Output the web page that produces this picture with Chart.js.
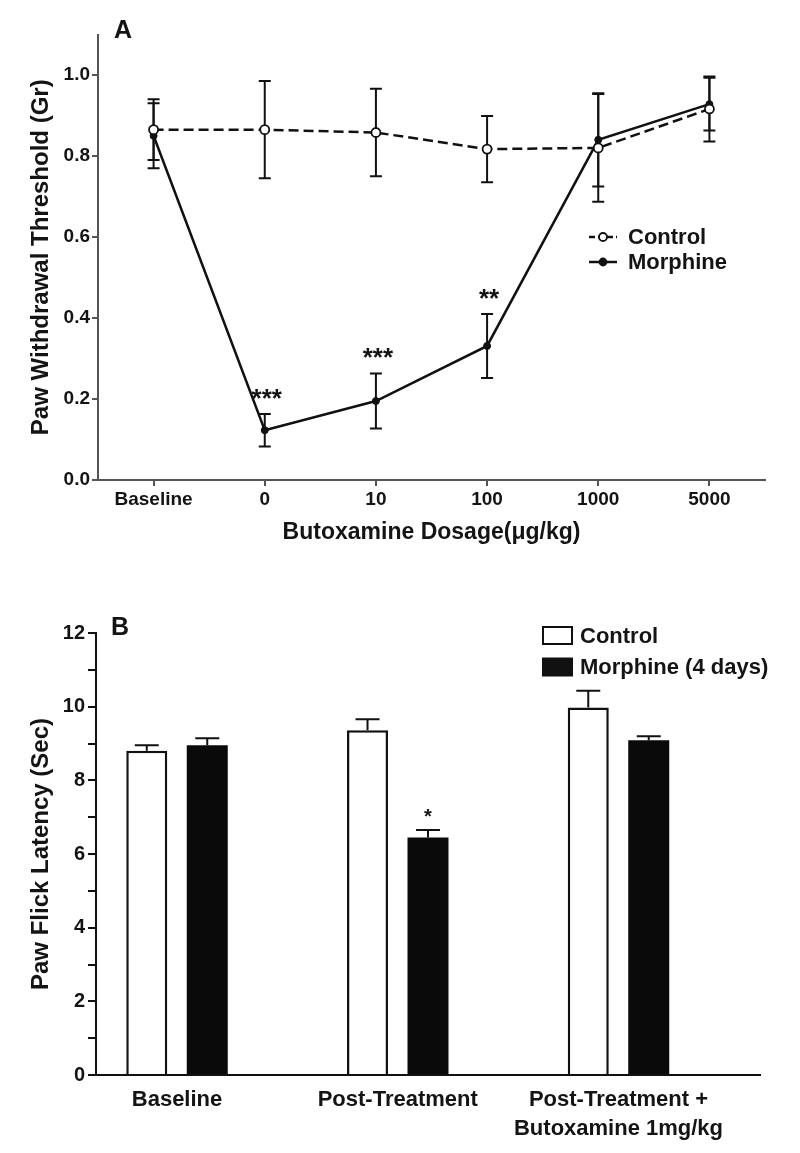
<!DOCTYPE html>
<html>
<head>
<meta charset="utf-8">
<script src="https://cdn.jsdelivr.net/npm/chart.js@4.4.1/dist/chart.umd.min.js"></script>
<style>
  html, body { margin: 0; padding: 0; background: #fff; }
  body { width: 800px; height: 1153px; position: relative; overflow: hidden; }
  .wrap { position: absolute; left: 0; width: 800px; }
</style>
</head>
<body>
<div class="wrap" style="top:0;height:560px"><canvas id="ca" width="800" height="560" style="width:800px;height:560px"></canvas></div>
<div class="wrap" style="top:560px;height:593px"><canvas id="cb" width="800" height="593" style="width:800px;height:593px"></canvas></div>
<script>
// ---------- Panel A data ----------
const categoriesA = ['Baseline', '0', '10', '100', '1000', '5000'];
const controlA = [0.865, 0.865, 0.858, 0.817, 0.82, 0.916];
const controlErrA = [0.075, 0.12, 0.108, 0.082, 0.133, 0.08];
const morphineA = [0.85, 0.123, 0.195, 0.331, 0.84, 0.928];
const morphineErrA = [0.08, 0.04, 0.068, 0.079, 0.115, 0.065];
const starsA = ['', '***', '***', '**', '', ''];
const yTicksA = [0, 0.2, 0.4, 0.6, 0.8, 1.0];

// ---------- Panel B data ----------
const groupsB = ['Baseline', 'Post-Treatment', ['Post-Treatment +', 'Butoxamine 1mg/kg']];
const controlB = [8.8, 9.36, 9.98];
const controlErrB = [0.155, 0.3, 0.45];
const morphineB = [8.95, 6.45, 9.09];
const morphineErrB = [0.19, 0.2, 0.11];
const starsB = ['', '*', ''];
const yTicksB = [0, 1, 2, 3, 4, 5, 6, 7, 8, 9, 10, 11, 12];

const FONT = "'Liberation Sans', Arial, Helvetica, sans-serif";
const TXT = '#141414';
Chart.defaults.font.family = FONT;
Chart.defaults.color = TXT;

// ---------- Panel A ----------
const plotPluginA = {
  id: 'plotPluginA',
  beforeDatasetsDraw(chart) {
    const { ctx, scales: { x, y } } = chart;
    ctx.save();
    ctx.strokeStyle = '#111';
    ctx.lineWidth = 2;
    chart.data.datasets.forEach(ds => {
      ds.err.forEach((e, i) => {
        const v = ds.data[i];
        const px = x.getPixelForValue(i);
        const t = y.getPixelForValue(v + e);
        const b = y.getPixelForValue(v - e);
        ctx.beginPath();
        ctx.moveTo(px, t); ctx.lineTo(px, b);
        ctx.moveTo(px - 6, t); ctx.lineTo(px + 6, t);
        ctx.moveTo(px - 6, b); ctx.lineTo(px + 6, b);
        ctx.stroke();
      });
    });
    ctx.restore();
  },
  afterDatasetsDraw(chart) {
    const { ctx, scales: { x, y } } = chart;
    ctx.save();
    ctx.fillStyle = TXT;
    ctx.font = 'bold 26px ' + FONT;
    ctx.textAlign = 'center';
    ctx.textBaseline = 'alphabetic';
    starsA.forEach((s, i) => {
      if (!s) return;
      const px = x.getPixelForValue(i);
      const t = y.getPixelForValue(morphineA[i] + morphineErrA[i]);
      ctx.fillText(s, px + 2, t - 7);
    });
    // panel letter
    ctx.textAlign = 'left';
    ctx.font = 'bold 25px ' + FONT;
    ctx.fillText('A', 114, 38);
    // legend
    ctx.font = 'bold 22px ' + FONT;
    ctx.textBaseline = 'middle';
    const rows = [{ label: 'Control', y: 237, dash: [6, 3], open: true }, { label: 'Morphine', y: 262, dash: [], open: false }];
    rows.forEach(r => {
      ctx.strokeStyle = '#111';
      ctx.lineWidth = 2.5;
      ctx.setLineDash(r.dash);
      ctx.beginPath(); ctx.moveTo(589, r.y); ctx.lineTo(617, r.y); ctx.stroke();
      ctx.setLineDash([]);
      ctx.beginPath();
      ctx.arc(603, r.y, r.open ? 4 : 3.5, 0, Math.PI * 2);
      ctx.fillStyle = r.open ? '#fff' : '#111';
      ctx.fill();
      ctx.lineWidth = 1.8;
      ctx.stroke();
      ctx.fillStyle = TXT;
      ctx.fillText(r.label, 628, r.y + 1);
    });
    ctx.restore();
  }
};

new Chart(document.getElementById('ca'), {
  type: 'line',
  data: {
    labels: categoriesA,
    datasets: [
      {
        label: 'Control', data: controlA, err: controlErrA,
        borderColor: '#111', borderWidth: 2.5, borderDash: [10, 5],
        pointRadius: 4.5, pointBackgroundColor: '#fff', pointBorderColor: '#111', pointBorderWidth: 1.8,
        tension: 0, fill: false
      },
      {
        label: 'Morphine', data: morphineA, err: morphineErrA,
        borderColor: '#111', borderWidth: 2.5,
        pointRadius: 3.5, pointBackgroundColor: '#111', pointBorderColor: '#111', pointBorderWidth: 1,
        tension: 0, fill: false
      }
    ]
  },
  options: {
    responsive: false,
    animation: false,
    layout: { padding: { top: 34.5, right: 35, left: 0, bottom: 0 } },
    plugins: { legend: { display: false }, tooltip: { enabled: false } },
    scales: {
      x: {
        type: 'category',
        offset: true,
        grid: { display: true, drawOnChartArea: false, tickLength: 6, color: '#555', lineWidth: 2 },
        border: { display: true, color: '#555', width: 2 },
        ticks: { font: { size: 19, weight: 'bold' }, color: TXT, padding: 2, maxRotation: 0, minRotation: 0, autoSkip: false },
        title: { display: true, text: 'Butoxamine Dosage(\u03BCg/kg)', font: { size: 23, weight: 'bold' }, color: TXT, padding: { top: 0, bottom: 14 } },
        afterFit(scale) { scale.height = 80; }
      },
      y: {
        min: 0, max: 1.1,
        afterBuildTicks(scale) { scale.ticks = yTicksA.map(v => ({ value: v })); },
        grid: { display: true, drawOnChartArea: false, tickLength: 6, color: '#555', lineWidth: 2 },
        border: { display: true, color: '#555', width: 2 },
        ticks: { font: { size: 19, weight: 'bold' }, color: TXT, padding: 2, callback: v => Number(v).toFixed(1) },
        title: { display: true, text: 'Paw Withdrawal Threshold (Gr)', font: { size: 24, weight: 'bold' }, color: TXT, padding: { top: 27, bottom: 0 } },
        afterFit(scale) { scale.width = 98; }
      }
    }
  },
  plugins: [plotPluginA]
});

// ---------- Panel B ----------
const plotPluginB = {
  id: 'plotPluginB',
  afterDatasetsDraw(chart) {
    const { ctx, scales: { y } } = chart;
    ctx.save();
    ctx.strokeStyle = '#111';
    ctx.lineWidth = 2;
    chart.data.datasets.forEach((ds, di) => {
      const meta = chart.getDatasetMeta(di);
      ds.err.forEach((e, i) => {
        const el = meta.data[i];
        const v = ds.data[i].y;
        const px = el.x;
        const t = y.getPixelForValue(v + e);
        const b = y.getPixelForValue(v);
        ctx.beginPath();
        ctx.moveTo(px, b); ctx.lineTo(px, t);
        ctx.moveTo(px - 12, t); ctx.lineTo(px + 12, t);
        ctx.stroke();
      });
    });
    // stars
    ctx.fillStyle = TXT;
    ctx.font = 'bold 20px ' + FONT;
    ctx.textAlign = 'center';
    ctx.textBaseline = 'alphabetic';
    const mMeta = chart.getDatasetMeta(1);
    starsB.forEach((s, i) => {
      if (!s) return;
      const t = y.getPixelForValue(morphineB[i] + morphineErrB[i]);
      ctx.fillText(s, mMeta.data[i].x, t - 7);
    });
    // panel letter
    ctx.textAlign = 'left';
    ctx.font = 'bold 25px ' + FONT;
    ctx.fillText('B', 111, 75);
    // legend
    ctx.font = 'bold 22px ' + FONT;
    ctx.textBaseline = 'middle';
    const rows = [{ label: 'Control', y: 75.5, fill: '#fff' }, { label: 'Morphine (4 days)', y: 107, fill: '#111' }];
    rows.forEach(r => {
      ctx.fillStyle = r.fill;
      ctx.fillRect(543, r.y - 8.5, 29, 17);
      ctx.lineWidth = 2;
      ctx.strokeStyle = '#111';
      ctx.strokeRect(543, r.y - 8.5, 29, 17);
      ctx.fillStyle = TXT;
      ctx.fillText(r.label, 580, r.y + 1);
    });
    ctx.restore();
  }
};

new Chart(document.getElementById('cb'), {
  type: 'bar',
  data: {
    datasets: [
      {
        label: 'Control', data: controlB.map((v, i) => ({ x: i, y: v })), err: controlErrB,
        backgroundColor: '#fff', borderColor: '#111', borderWidth: 2.5,
        categoryPercentage: 0.548, barPercentage: 0.678
      },
      {
        label: 'Morphine (4 days)', data: morphineB.map((v, i) => ({ x: i, y: v })), err: morphineErrB,
        backgroundColor: '#0a0a0a', borderColor: '#0a0a0a', borderWidth: 0,
        categoryPercentage: 0.548, barPercentage: 0.678
      }
    ]
  },
  options: {
    responsive: false,
    animation: false,
    layout: { padding: { top: 73, right: 40, left: 0, bottom: 0 } },
    plugins: { legend: { display: false }, tooltip: { enabled: false } },
    scales: {
      x: {
        type: 'linear',
        offset: false,
        min: -0.367, max: 2.641,
        afterBuildTicks(scale) { scale.ticks = groupsB.map((_, i) => ({ value: i })); },
        grid: { display: false },
        border: { display: true, color: '#111', width: 2 },
        ticks: {
          font: { size: 22, weight: 'bold', lineHeight: 1.3 }, color: TXT, padding: 3,
          maxRotation: 0, minRotation: 0, autoSkip: false,
          callback: (v, i) => groupsB[i]
        },
        afterFit(scale) { scale.height = 78; }
      },
      y: {
        min: 0, max: 12,
        afterBuildTicks(scale) { scale.ticks = yTicksB.map(v => ({ value: v })); },
        grid: { display: true, drawOnChartArea: false, tickLength: 8, color: '#111', lineWidth: 2 },
        border: { display: true, color: '#111', width: 2 },
        ticks: { font: { size: 20, weight: 'bold' }, color: TXT, padding: 3, callback: v => (v % 2 === 0 ? String(v) : '') },
        title: { display: true, text: 'Paw Flick Latency (Sec)', font: { size: 24, weight: 'bold' }, color: TXT, padding: { top: 27, bottom: 0 } },
        afterFit(scale) { scale.width = 96; }
      }
    }
  },
  plugins: [plotPluginB]
});
</script>
</body>
</html>
